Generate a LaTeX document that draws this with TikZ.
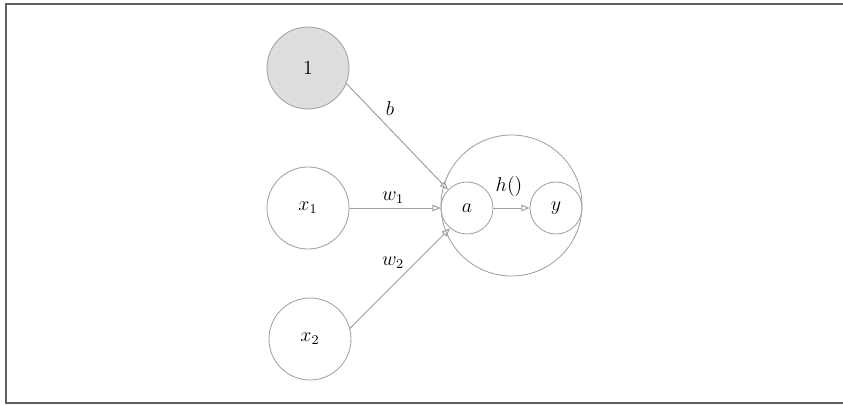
\documentclass[tikz,border=0pt]{standalone}
\usetikzlibrary{arrows.meta}
\definecolor{edge}{HTML}{A0A0A0}
\definecolor{fillg}{HTML}{DCDDDF}
\definecolor{frame}{HTML}{606060}
\begin{document}
\begin{tikzpicture}[x=0.6pt,y=-0.6pt,font=\fontsize{11.5}{13}\selectfont,
  neuron/.style={circle,draw=edge,line width=0.5pt,minimum size=49.2pt,inner sep=0pt},
  small/.style={circle,draw=edge,line width=0.5pt,minimum size=31.2pt,inner sep=0pt},
  conn/.style={draw=edge,line width=0.6pt,-{Triangle[open,length=5pt,width=4pt]}},
  lbl/.style={inner sep=1pt}]
\useasboundingbox (0,0) rectangle (843,404);
\draw[frame,line width=0.8pt] (846,4) -- (6,4) -- (6,403) -- (846,403);
\node[neuron,fill=fillg] (one) at (308,68) {$1$};
\node[neuron] (x1) at (308,208) {$x_1$};
\node[neuron] (x2) at (310,339) {$x_2$};
\node[circle,draw=edge,line width=0.5pt,minimum size=84.6pt,inner sep=0pt] (big) at (511.5,205.5) {};
\node[small] (a) at (467,208) {$a$};
\node[small] (y) at (556,208) {$y$};
\draw[conn] (one.-22) -- (a.136);
\draw[conn] (x1) -- (a);
\draw[conn] (x2.15) -- (a.-130);
\draw[conn] (a) -- (y);
\node[lbl] (lb) at (390,109) {$b$};
\node[lbl] (lw1) at (393,198) {$w_1$};
\node[lbl] (lw2) at (393,263) {$w_2$};
\node[lbl] (lh) at (509,186) {$h()$};
\end{tikzpicture}
\end{document}
